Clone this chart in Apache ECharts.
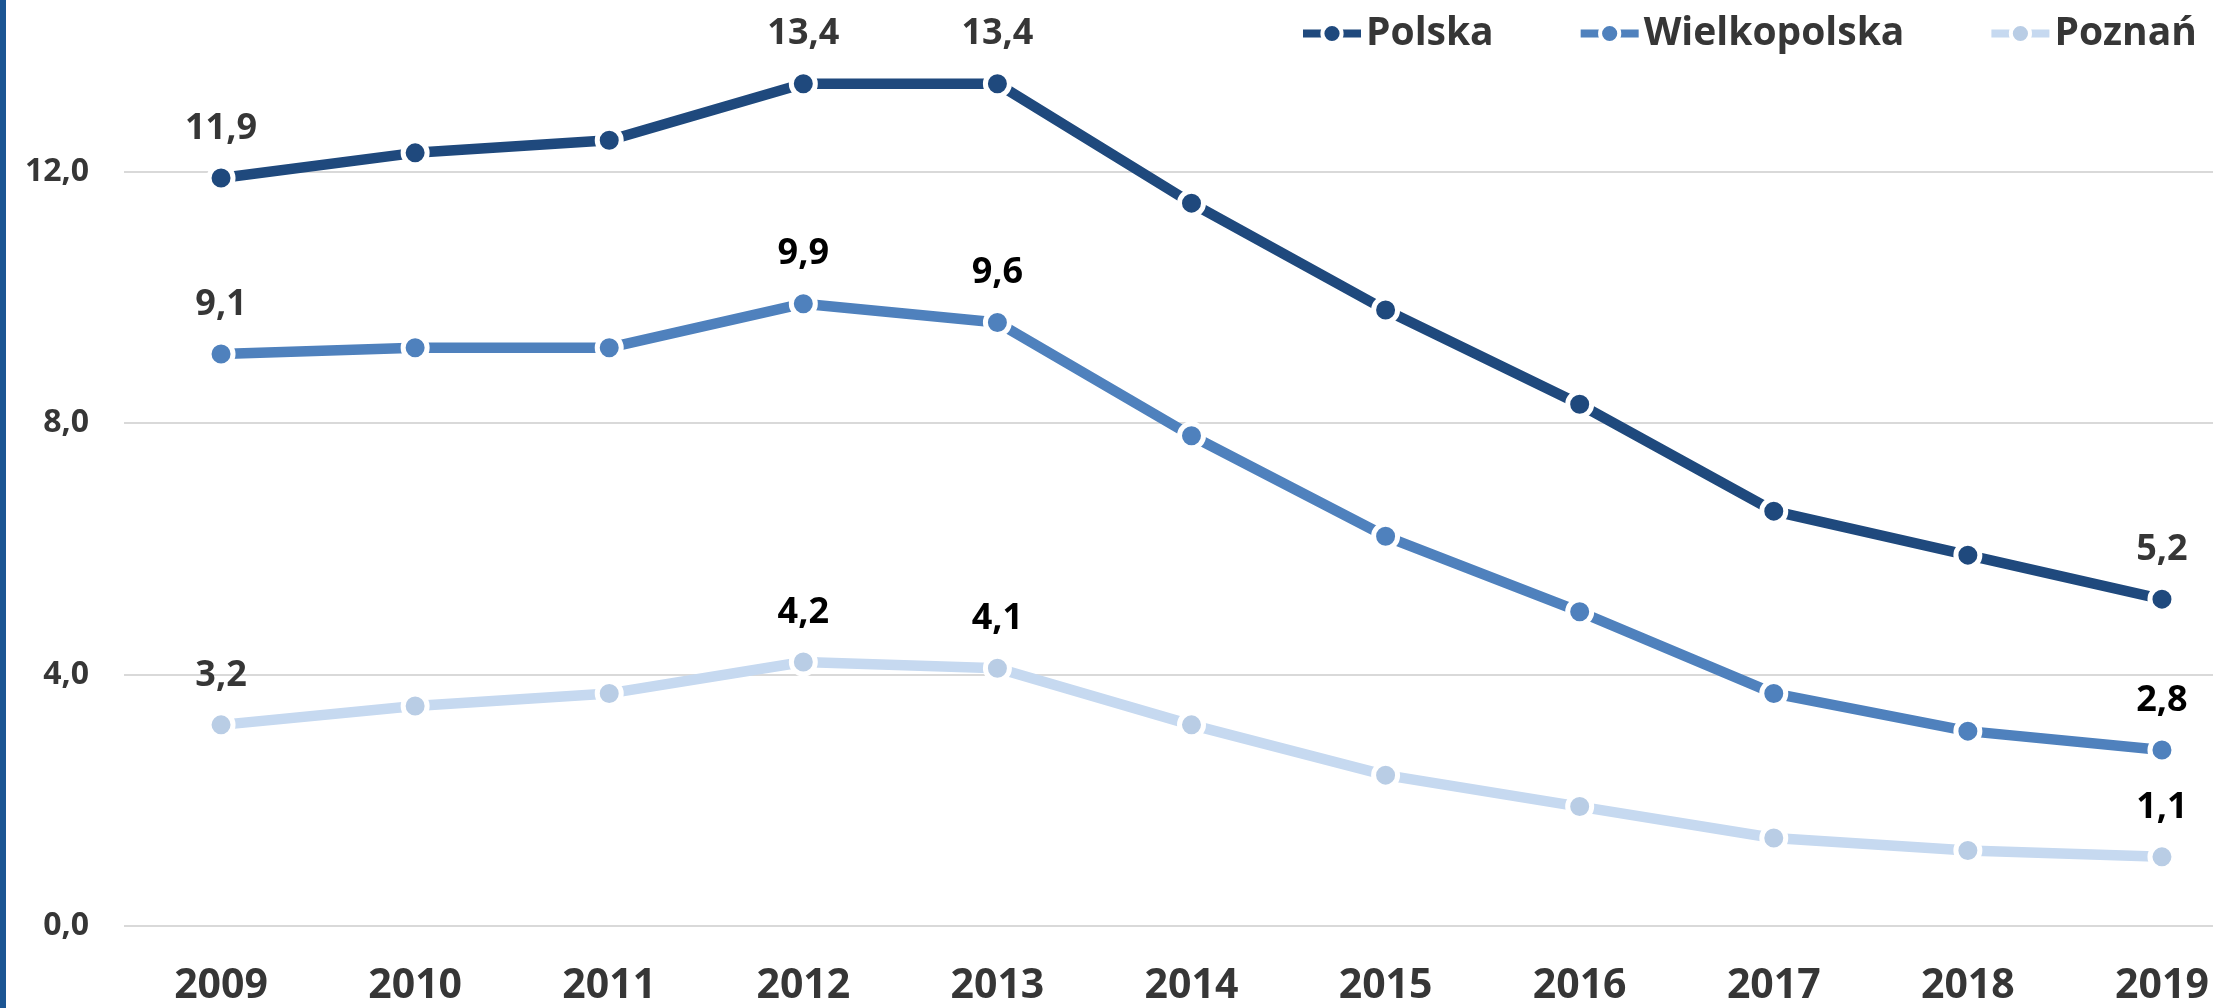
<!DOCTYPE html>
<html>
<head>
<meta charset="utf-8">
<title>Polska / Wielkopolska / Poznań</title>
<script src="https://cdn.jsdelivr.net/npm/echarts@6/dist/echarts.min.js"></script>
<style>
  html, body { margin: 0; padding: 0; background: #fff; width: 2213px; height: 1008px; overflow: hidden; }
  /* plot area runs past the right edge, as in the source picture */
  #chart { width: 2300px; height: 1008px; }
</style>
</head>
<body>
<div id="chart"></div>
<script>
const years = ['2009', '2010', '2011', '2012', '2013', '2014', '2015', '2016', '2017', '2018', '2019']
const polska = [11.9, 12.3, 12.5, 13.4, 13.4, 11.5, 9.8, 8.3, 6.6, 5.9, 5.2]
const wielkopolska = [9.1, 9.2, 9.2, 9.9, 9.6, 7.8, 6.2, 5.0, 3.7, 3.1, 2.8]
const poznan = [3.2, 3.5, 3.7, 4.2, 4.1, 3.2, 2.4, 1.9, 1.4, 1.2, 1.1]
// which points carry a value label
const labelIdx = [0, 3, 4, 10]

const fontFamily = '"Open Sans"'
const gridColor = '#d9d9d9'
const textGray = '#363636'

const fmt = v => v.toFixed(1).replace('.', ',')

// first label of every series is gray, Polska is gray everywhere
function buildData(values, darkLabels) {
  return values.map((v, i) => {
    if (labelIdx.indexOf(i) < 0) return v
    return {
      value: v,
      label: {
        show: true,
        color: (darkLabels || i === 0) ? textGray : '#000'
      }
    }
  })
}

function lineSeries(name, values, lineColor, markerColor, darkLabels) {
  return {
    name,
    type: 'line',
    data: buildData(values, darkLabels),
    symbol: 'circle',
    symbolSize: 24,
    lineStyle: { color: lineColor, width: 10.5 },
    itemStyle: { color: markerColor, borderColor: '#fff', borderWidth: 5 },
    label: {
      show: false,
      position: 'top',
      distance: 17,
      fontFamily,
      fontWeight: 'bold',
      fontSize: 36,
      formatter: p => fmt(p.value)
    },
    emphasis: { disabled: true },
    animation: false
  }
}

const chart = echarts.init(document.getElementById('chart'))
chart.setOption({
  backgroundColor: '#fff',
  graphic: [
    { type: 'rect', left: 0, top: 0, shape: { width: 6, height: 1008 }, style: { fill: '#1b5593' } }
  ],
  legend: {
    left: 1299,
    top: 14,
    width: 1000,
    padding: 0,
    itemWidth: 58,
    itemHeight: 24,
    itemGap: 83,
    lineStyle: { width: 8 },
    itemStyle: { borderColor: '#fff', borderWidth: 4 },
    textStyle: { fontFamily, fontWeight: 'bold', fontSize: 39, color: textGray },
    data: ['Polska', 'Wielkopolska', 'Poznań']
  },
  grid: { left: 124, top: 46, width: 2135, height: 880, containLabel: false },
  xAxis: {
    type: 'category',
    data: years,
    boundaryGap: true,
    axisLine: { show: false },
    axisTick: { show: false },
    axisLabel: { margin: 40, fontFamily, fontWeight: 'bold', fontSize: 41, color: textGray }
  },
  yAxis: {
    type: 'value',
    min: 0,
    max: 14,
    interval: 4,
    axisLine: { show: false },
    axisTick: { show: false },
    axisLabel: {
      margin: 35,
      showMaxLabel: false,
      fontFamily,
      fontWeight: 'bold',
      fontSize: 32,
      color: textGray,
      formatter: v => fmt(v)
    },
    splitLine: { showMaxLine: false, lineStyle: { color: gridColor, width: 2 } }
  },
  series: [
    lineSeries('Polska', polska, '#1f497d', '#1f497d', true),
    lineSeries('Wielkopolska', wielkopolska, '#4f81bd', '#4f81bd', false),
    lineSeries('Poznań', poznan, '#c6d9f0', '#b9cde5', false)
  ]
})
</script>
</body>
</html>
